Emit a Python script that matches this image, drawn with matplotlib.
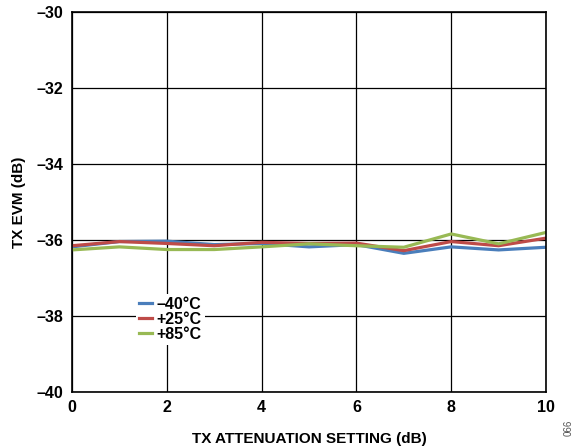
import matplotlib
matplotlib.use("Agg")
import matplotlib.pyplot as plt
from matplotlib.ticker import FuncFormatter

plt.rcParams['font.family'] = ['Liberation Sans', 'DejaVu Sans']
plt.rcParams['font.weight'] = 'bold'

# Дані
atten = [0, 1, 2, 3, 4, 5, 6, 7, 8, 9, 10]
evm_m40 = [-36.18, -36.04, -36.03, -36.12, -36.09, -36.18, -36.12, -36.35, -36.18, -36.26, -36.19]
evm_p25 = [-36.15, -36.04, -36.09, -36.15, -36.06, -36.09, -36.08, -36.28, -36.04, -36.15, -35.95]
evm_p85 = [-36.26, -36.18, -36.25, -36.25, -36.18, -36.10, -36.15, -36.19, -35.84, -36.10, -35.80]
labels = ['–40°C', '+25°C', '+85°C']
colors = ['#4a7ebb', '#be4b48', '#98b954']

fig = plt.figure(figsize=(5.83, 4.48), dpi=100)
ax = fig.add_axes([0.1235, 0.125, 0.813, 0.848])

for y, lab, c in zip([evm_m40, evm_p25, evm_p85], labels, colors):
    ax.plot(atten, y, color=c, linewidth=2.3, label=lab)

ax.set_xlim(0, 10)
ax.set_ylim(-40, -30)
ax.set_xticks(range(0, 11, 2))
ax.set_yticks(range(-40, -29, 2))
ax.yaxis.set_major_formatter(FuncFormatter(lambda v, p: f"{v:.0f}".replace('-', '–')))
ax.grid(True, color='black', linewidth=0.9)
ax.set_axisbelow(True)
for s in ax.spines.values():
    s.set_linewidth(1.2)
ax.tick_params(length=0, labelsize=11.5, pad=6)
for t in ax.get_xticklabels() + ax.get_yticklabels():
    t.set_fontweight('bold')

ax.set_xlabel('TX ATTENUATION SETTING (dB)', fontsize=11, fontweight='bold', labelpad=12)
ax.set_ylabel('TX EVM (dB)', fontsize=11, fontweight='bold', labelpad=8)

leg = ax.legend(loc='upper left', bbox_to_anchor=(0.118, 0.28), frameon=True,
                handlelength=0.8, handletextpad=0.3, labelspacing=0.0,
                borderpad=0.2, fontsize=11.5, facecolor='white', edgecolor='none',
                framealpha=1)
for t in leg.get_texts():
    t.set_fontweight('bold')

fig.text(0.975, 0.045, '066', rotation=90, fontsize=7, color='#555555',
         ha='center', va='center', fontweight='normal')

fig.savefig('out.png', dpi=100)
